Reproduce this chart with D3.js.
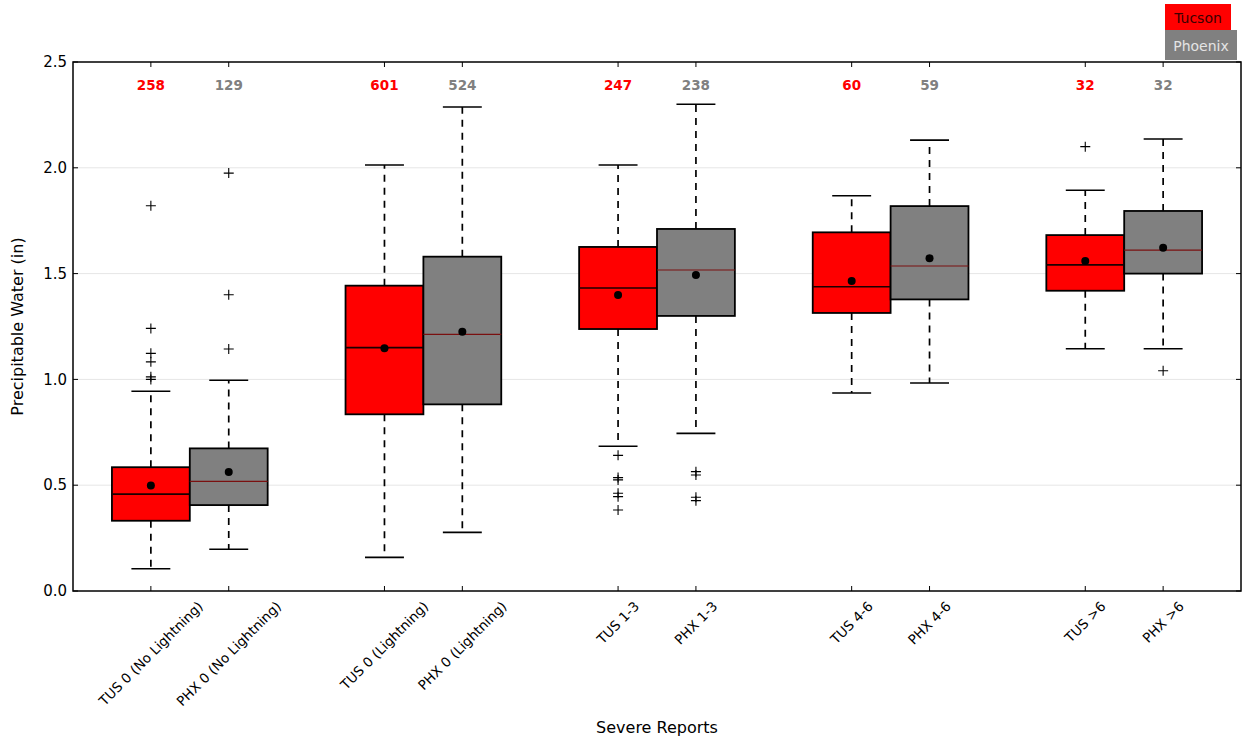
<!DOCTYPE html>
<html>
<head>
<meta charset="utf-8">
<script src="https://cdn.jsdelivr.net/npm/d3@7"></script>
<style>
  html, body { margin: 0; padding: 0; background: #fff; }
  svg { display: block; font-family: "DejaVu Sans", sans-serif; }
</style>
</head>
<body>
<svg id="chart" width="1244" height="740"></svg>
<script>
// ---- Data ----
const categories = [
  "TUS 0 (No Lightning)", "PHX 0 (No Lightning)",
  "TUS 0 (Lightning)", "PHX 0 (Lightning)",
  "TUS 1-3", "PHX 1-3",
  "TUS 4-6", "PHX 4-6",
  "TUS >6", "PHX >6"
];
const stations = ["Tucson", "Phoenix"];
const counts = [258, 129, 601, 524, 247, 238, 60, 59, 32, 32];
const whiskerLow  = [0.105, 0.197, 0.159, 0.277, 0.684, 0.745, 0.936, 0.983, 1.145, 1.145];
const q1          = [0.332, 0.406, 0.835, 0.882, 1.238, 1.300, 1.314, 1.378, 1.419, 1.500];
const medians     = [0.458, 0.518, 1.150, 1.213, 1.432, 1.517, 1.438, 1.536, 1.541, 1.611];
const q3          = [0.585, 0.674, 1.443, 1.580, 1.626, 1.711, 1.695, 1.819, 1.682, 1.796];
const whiskerHigh = [0.944, 0.996, 2.013, 2.287, 2.013, 2.300, 1.868, 2.131, 1.894, 2.136];
const means       = [0.498, 0.562, 1.147, 1.225, 1.399, 1.493, 1.465, 1.572, 1.560, 1.622];
const outliers = [
  [1.821, 1.241, 1.123, 1.083, 1.012, 1.000],
  [1.975, 1.400, 1.144],
  [],
  [],
  [0.641, 0.536, 0.525, 0.462, 0.446, 0.383],
  [0.564, 0.548, 0.443, 0.427],
  [],
  [],
  [2.100],
  [1.041]
];
const yTicks = [0.0, 0.5, 1.0, 1.5, 2.0, 2.5];

// ---- Layout ----
const svg = d3.select("#chart");
const L = 73, R = 1241, T = 62, B = 591;
const x = d3.scaleLinear().domain([0, 15]).range([L, R]);
const y = d3.scaleLinear().domain([0, 2.5]).range([B, T]);
const pos = i => Math.floor(i / 2) * 3 + (i % 2) + 1;
const fills = ["#ff0000", "#808080"];
const countColors = ["#ff0000", "#808080"];
const boxW = 1.0, capW = 0.5;

// gridlines
svg.append("g").selectAll("line").data(yTicks.filter(t => t > 0 && t < 2.5)).join("line")
  .attr("x1", L).attr("x2", R).attr("y1", d => y(d)).attr("y2", d => y(d))
  .attr("stroke", "#e6e6e6").attr("stroke-width", 1);

const data = categories.map((c, i) => ({
  c, i, p: pos(i), lo: whiskerLow[i], q1: q1[i], med: medians[i], q3: q3[i],
  hi: whiskerHigh[i], mean: means[i], out: outliers[i], n: counts[i], s: i % 2
}));

const g = svg.append("g");
const box = g.selectAll("g.box").data(data).join("g").attr("class", "box");

// whiskers (dashed)
box.append("line")
  .attr("x1", d => x(d.p)).attr("x2", d => x(d.p))
  .attr("y1", d => y(d.q3)).attr("y2", d => y(d.hi))
  .attr("stroke", "#000").attr("stroke-width", 1.7).attr("stroke-dasharray", "7,6");
box.append("line")
  .attr("x1", d => x(d.p)).attr("x2", d => x(d.p))
  .attr("y1", d => y(d.q1)).attr("y2", d => y(d.lo))
  .attr("stroke", "#000").attr("stroke-width", 1.7).attr("stroke-dasharray", "7,6");
// caps
["hi", "lo"].forEach(k => {
  box.append("line")
    .attr("x1", d => x(d.p - capW / 2)).attr("x2", d => x(d.p + capW / 2))
    .attr("y1", d => y(d[k])).attr("y2", d => y(d[k]))
    .attr("stroke", "#000").attr("stroke-width", 1.6);
});
// boxes
box.append("rect")
  .attr("x", d => x(d.p - boxW / 2)).attr("width", d => x(d.p + boxW / 2) - x(d.p - boxW / 2))
  .attr("y", d => y(d.q3)).attr("height", d => y(d.q1) - y(d.q3))
  .attr("fill", d => fills[d.s]).attr("stroke", "#000").attr("stroke-width", 1.8);
// medians
box.append("line")
  .attr("x1", d => x(d.p - boxW / 2)).attr("x2", d => x(d.p + boxW / 2))
  .attr("y1", d => y(d.med)).attr("y2", d => y(d.med))
  .attr("stroke", d => d.s === 0 ? "#1a0000" : "#7a1010")
  .attr("stroke-width", d => d.s === 0 ? 1.6 : 1.2);
// means
box.append("circle")
  .attr("cx", d => x(d.p)).attr("cy", d => y(d.mean)).attr("r", 4).attr("fill", "#000");
// outliers
box.each(function(d) {
  d3.select(this).selectAll("path.out").data(d.out).join("path")
    .attr("class", "out")
    .attr("d", v => {
      const cx = x(d.p), cy = y(v), h = 5;
      return `M${cx - h},${cy}H${cx + h}M${cx},${cy - h}V${cy + h}`;
    })
    .attr("stroke", "#000").attr("stroke-width", 1.1).attr("fill", "none");
});
// counts
box.append("text")
  .attr("x", d => x(d.p)).attr("y", 90)
  .attr("text-anchor", "middle")
  .attr("font-size", 13.5).attr("font-weight", "bold")
  .attr("fill", d => countColors[d.s])
  .text(d => d.n);

// frame
svg.append("rect").attr("x", L).attr("y", T).attr("width", R - L).attr("height", B - T)
  .attr("fill", "none").attr("stroke", "#000").attr("stroke-width", 1.5);

// ticks (inward) - x top & bottom
const tk = 5;
svg.append("g").selectAll("line").data(data).join("line")
  .attr("x1", d => x(d.p)).attr("x2", d => x(d.p)).attr("y1", B).attr("y2", B - tk)
  .attr("stroke", "#000").attr("stroke-width", 1);
svg.append("g").selectAll("line").data(data).join("line")
  .attr("x1", d => x(d.p)).attr("x2", d => x(d.p)).attr("y1", T).attr("y2", T + tk)
  .attr("stroke", "#000").attr("stroke-width", 1);
// y ticks left & right
svg.append("g").selectAll("line").data(yTicks).join("line")
  .attr("x1", L).attr("x2", L + tk).attr("y1", d => y(d)).attr("y2", d => y(d))
  .attr("stroke", "#000").attr("stroke-width", 1);
svg.append("g").selectAll("line").data(yTicks).join("line")
  .attr("x1", R).attr("x2", R - tk).attr("y1", d => y(d)).attr("y2", d => y(d))
  .attr("stroke", "#000").attr("stroke-width", 1);

// y tick labels
svg.append("g").selectAll("text").data(yTicks).join("text")
  .attr("x", L - 6).attr("y", d => y(d)).attr("dy", "0.35em")
  .attr("text-anchor", "end").attr("font-size", 15).attr("fill", "#000")
  .text(d => d3.format(".1f")(d));

// x tick labels rotated 45, centered on tick
const xl = svg.append("g").selectAll("text").data(data).join("text")
  .attr("text-anchor", "middle").attr("font-size", 13.5).attr("fill", "#000")
  .attr("dy", "0.35em")
  .text(d => d.c);
xl.each(function(d) {
  const len = this.getComputedTextLength();
  const hbox = (len + 14) * Math.SQRT1_2;
  const cx = x(d.p), cy = B + 8 + hbox / 2;
  d3.select(this).attr("x", cx).attr("y", cy)
    .attr("transform", `rotate(-45 ${cx} ${cy})`);
});

// axis titles
svg.append("text").attr("x", (L + R) / 2).attr("y", 733)
  .attr("text-anchor", "middle").attr("font-size", 16).attr("fill", "#000")
  .text("Severe Reports");
svg.append("text").attr("transform", `translate(23,${(T + B) / 2}) rotate(-90)`)
  .attr("text-anchor", "middle").attr("font-size", 16).attr("fill", "#000")
  .text("Precipitable Water (in)");

// legend
const leg = svg.append("g");
leg.append("rect").attr("x", 1165).attr("y", 4).attr("width", 66).attr("height", 26).attr("fill", fills[0]);
leg.append("rect").attr("x", 1165).attr("y", 30).attr("width", 72).attr("height", 30).attr("fill", fills[1]);
leg.append("text").attr("x", 1198).attr("y", 23).attr("text-anchor", "middle")
  .attr("font-size", 14).attr("fill", "#3a0000").text(stations[0]);
leg.append("text").attr("x", 1201).attr("y", 51).attr("text-anchor", "middle")
  .attr("font-size", 14).attr("fill", "#e4e4e4").text(stations[1]);
</script>
</body>
</html>
